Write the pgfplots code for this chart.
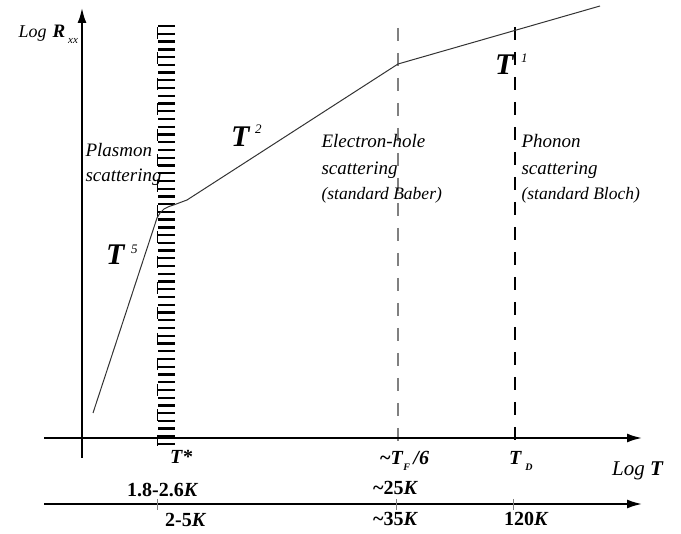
\documentclass[border=0pt]{standalone}
\usepackage{fontspec}
\setmainfont{Liberation Serif}
\usepackage{pgfplots}
\pgfplotsset{compat=1.18}
\usetikzlibrary{arrows.meta}
\definecolor{curve}{HTML}{333333}
\definecolor{midgray}{HTML}{808080}
\begin{document}
\begin{tikzpicture}
\begin{axis}[width=681pt,height=534pt,scale only axis,
  xmin=0,xmax=681,ymin=0,ymax=534,y dir=reverse,
  hide axis, clip=false]
% bounding box
\addplot[draw=none] coordinates {(0,0)(681,534)};
% hatched band
\addplot[line width=17pt, dash pattern=on 2.3pt off 5.44pt] coordinates {(166.5,25)(166.5,446)};
\addplot[line width=1pt, dash pattern=on 12pt off 13.5pt] coordinates {(157.5,27)(157.5,446)};
% dashed markers
\addplot[line width=1.5pt, midgray, dash pattern=on 13pt off 12pt] coordinates {(398,28)(398,446)};
\addplot[line width=1.5pt, black, dash pattern=on 13pt off 12pt] coordinates {(515,27)(515,446)};
% axes
\addplot[line width=2pt, -{Latex[length=15pt,width=9pt]}] coordinates {(82,458)(82,8)};
\addplot[line width=2pt, -{Latex[length=15pt,width=9pt]}] coordinates {(44,438)(642,438)};
\addplot[line width=1.8pt, -{Latex[length=15pt,width=9pt]}] coordinates {(44,504)(642,504)};
% ticks on second axis
\addplot[line width=0.8pt, midgray] coordinates {(157,499)(157,510)};
\addplot[line width=0.8pt, midgray] coordinates {(396,499)(396,510)};
\addplot[line width=0.8pt, midgray] coordinates {(513,499)(513,510)};
% curve
\addplot[line width=1pt, curve, line join=round] coordinates {
(93,413) (157,218) (160,213) (164,209) (169,206.5) (175,204.5) (187,200) (398,64) (600,6)};
% texts
\node[anchor=base west, font=\fontsize{18}{20}\selectfont\itshape] at (axis cs:15,38) {Log};
\node[anchor=base west, font=\fontsize{19}{20}\selectfont\bfseries\itshape] at (axis cs:49,38) {R};
\node[anchor=base west, font=\fontsize{11}{12}\selectfont\itshape, inner sep=0pt] at (axis cs:68,44) {xx};
\node[anchor=base west, font=\fontsize{19}{20}\selectfont\itshape] at (axis cs:82,157) {Plasmon};
\node[anchor=base west, font=\fontsize{19}{20}\selectfont\itshape] at (axis cs:82,182) {scattering};
\node[anchor=base west, font=\fontsize{19}{20}\selectfont\itshape] at (axis cs:318,148) {Electron-hole};
\node[anchor=base west, font=\fontsize{19}{20}\selectfont\itshape] at (axis cs:318,175) {scattering};
\node[anchor=base west, font=\fontsize{17.5}{20}\selectfont\itshape] at (axis cs:318,200) {(standard Baber)};
\node[anchor=base west, font=\fontsize{19}{20}\selectfont\itshape] at (axis cs:518,148) {Phonon};
\node[anchor=base west, font=\fontsize{19}{20}\selectfont\itshape] at (axis cs:518,175) {scattering};
\node[anchor=base west, font=\fontsize{17.5}{20}\selectfont\itshape] at (axis cs:518,200) {(standard Bloch)};
% powers
\node[anchor=base west, font=\fontsize{30}{30}\selectfont\bfseries\itshape, inner sep=0pt] at (axis cs:106,265) {T};
\node[anchor=north west, font=\fontsize{13}{13}\selectfont\itshape, inner sep=0pt] at (axis cs:131,245) {5};
\node[anchor=base west, font=\fontsize{30}{30}\selectfont\bfseries\itshape, inner sep=0pt] at (axis cs:231,147) {T};
\node[anchor=north west, font=\fontsize{13}{13}\selectfont\itshape, inner sep=0pt] at (axis cs:255,125) {2};
\node[anchor=base west, font=\fontsize{30}{30}\selectfont\bfseries\itshape, inner sep=0pt] at (axis cs:495,75) {T};
\node[anchor=north west, font=\fontsize{13}{13}\selectfont\itshape, inner sep=0pt] at (axis cs:521,54) {1};
% axis labels
\node[anchor=base west, font=\fontsize{20}{20}\selectfont\bfseries, inner sep=0pt] at (axis cs:170,464) {\textit{T}*};
\node[anchor=base west, font=\fontsize{20}{20}\selectfont\bfseries, inner sep=0pt] at (axis cs:380,465) {\textasciitilde\textit{T}\raisebox{-6pt}{\fontsize{10}{10}\selectfont\textit{F}}\,\textit{/6}};
\node[anchor=base west, font=\fontsize{20}{20}\selectfont\bfseries, inner sep=0pt] at (axis cs:509,465) {\textit{T}\,\raisebox{-6pt}{\fontsize{10}{10}\selectfont\textit{D}}};
\node[anchor=base west, font=\fontsize{21}{21}\selectfont, inner sep=0pt] at (axis cs:612,476) {\textit{Log} \textbf{\textit{T}}};
\node[anchor=base west, font=\fontsize{20}{20}\selectfont\bfseries, inner sep=0pt] at (axis cs:127,497) {1.8-2.6\textit{K}};
\node[anchor=base west, font=\fontsize{20}{20}\selectfont\bfseries, inner sep=0pt] at (axis cs:373,495) {\textasciitilde25\textit{K}};
\node[anchor=base west, font=\fontsize{20}{20}\selectfont\bfseries, inner sep=0pt] at (axis cs:165,527) {2-5\textit{K}};
\node[anchor=base west, font=\fontsize{20}{20}\selectfont\bfseries, inner sep=0pt] at (axis cs:373,526) {\textasciitilde35\textit{K}};
\node[anchor=base west, font=\fontsize{20}{20}\selectfont\bfseries, inner sep=0pt] at (axis cs:504,526) {120\textit{K}};
\end{axis}
\end{tikzpicture}
\end{document}
